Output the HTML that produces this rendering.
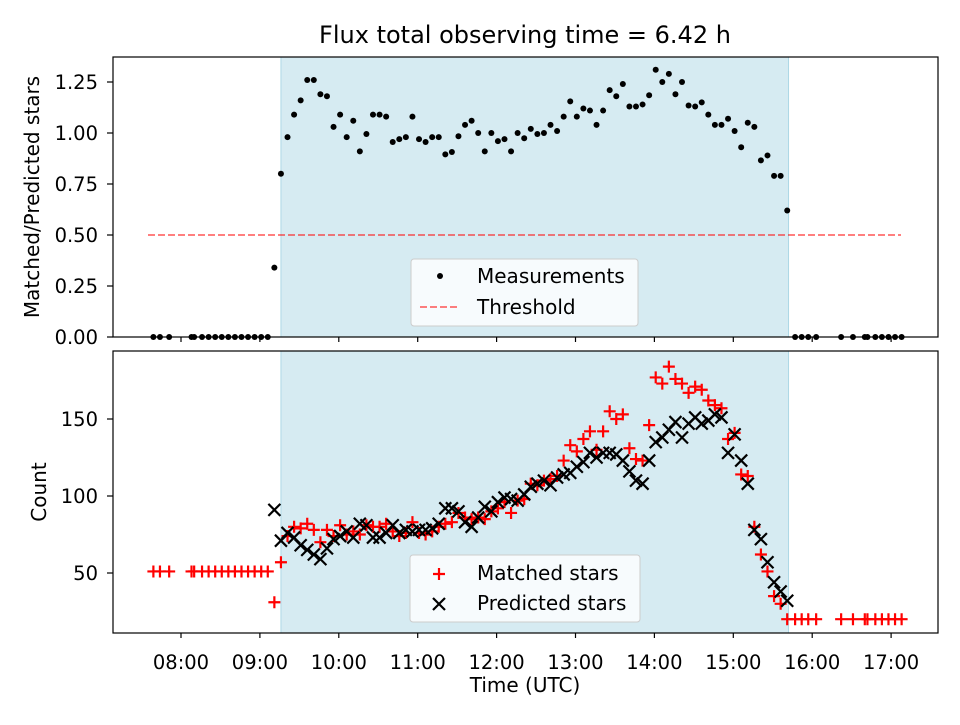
<!DOCTYPE html>
<html><head><meta charset="utf-8"><style>
body{margin:0;background:#fff;}
svg text{font-family:"DejaVu Sans","Liberation Sans",sans-serif;fill:#000;}
</style></head><body>
<svg id="c" width="960" height="720" viewBox="0 0 960 720" xmlns="http://www.w3.org/2000/svg"></svg>
<script>
const preTimes=["07:39","07:44","07:51","08:08","08:10","08:16","08:21","08:26","08:31","08:36","08:41","08:46","08:51","08:56","09:01","09:06"];
const activeTimes=["09:11","09:16","09:21","09:26","09:31","09:36","09:41","09:46","09:51","09:56","10:01","10:06","10:11","10:16","10:21","10:26","10:31","10:36","10:41","10:46","10:51","10:56","11:01","11:06","11:11","11:16","11:21","11:26","11:31","11:36","11:41","11:46","11:51","11:56","12:01","12:06","12:11","12:16","12:21","12:26","12:31","12:36","12:41","12:46","12:51","12:56","13:01","13:06","13:11","13:16","13:21","13:26","13:31","13:36","13:41","13:46","13:51","13:56","14:01","14:06","14:11","14:16","14:21","14:26","14:31","14:36","14:41","14:46","14:51","14:56","15:01","15:06","15:11","15:16","15:21","15:26","15:31","15:36","15:41"];
const postTimes=["15:47","15:52","15:57","16:03","16:22","16:31","16:40","16:42","16:48","16:53","16:58","17:03","17:08"];
const ratio=[0.34,0.80,0.98,1.09,1.16,1.26,1.26,1.19,1.18,1.03,1.09,0.98,1.06,0.91,0.995,1.09,1.09,1.08,0.956,0.97,0.98,1.08,0.97,0.956,0.98,0.98,0.895,0.907,0.984,1.04,1.06,1.00,0.91,1.00,0.96,0.97,0.91,1.00,0.974,1.02,0.995,1.00,1.04,1.01,1.08,1.155,1.08,1.12,1.11,1.04,1.11,1.21,1.18,1.24,1.13,1.13,1.14,1.185,1.31,1.25,1.29,1.19,1.25,1.135,1.13,1.15,1.09,1.04,1.04,1.07,1.01,0.93,1.05,1.03,0.866,0.89,0.79,0.79,0.62];
const predicted=[91,71,76,73,68,65,62,59,66,72,74,77,73,82,81,73,73,76,81,76,78,77,78,78,79,82,92,92,90,83,80,86,93,90,96,99,98,97,101,106,108,110,107,112,114,115,119,122,128,125,128,128,127,123,116,110,108,123,135,138,143,148,138,147,151,147,149,153,151,128,140,123,108,78,72,57,44,38,32];
const matched=[31,57,74,80,79,82,78,70,78,74,81,75,77,75,81,80,80,82,77,74,76,83,76,75,77,80,82,83,89,86,85,86,85,90,92,96,89,97,98,108,107,110,111,113,123,133,129,137,142,130,142,155,150,153,131,124,123,146,177,173,184,176,173,167,171,169,162,159,157,137,141,114,113,80,62,51,35,30,20];
const preMatched=[51,51,51,51,51,51,51,51,51,51,51,51,51,51,51,51];
const postMatched=[20,20,20,20,20,20,20,20,20,20,20,20,20];
const xTicks=["08:00","09:00","10:00","11:00","12:00","13:00","14:00","15:00","16:00","17:00"];
const topTicks=[0,0.25,0.5,0.75,1.0,1.25];
const botTicks=[50,100,150];
const threshold=0.5;
const shadeStart="09:16", shadeEnd="15:42";

const NS="http://www.w3.org/2000/svg";
const svg=document.getElementById('c');
function hrs(t){const p=t.split(':');return +p[0]+ +p[1]/60;}
function X(t){return 181+(hrs(t)-8)*78.9;}
function YT(v){return 337-v*204;}
function YB(v){return 573-(v-50)*1.54;}
function el(tag,a,parent){const e=document.createElementNS(NS,tag);for(const k in a)e.setAttribute(k,a[k]);(parent||svg).appendChild(e);return e;}

let s=el('rect',{x:X(shadeStart),y:57,width:X(shadeEnd)-X(shadeStart),height:280,fill:'#add8e6','fill-opacity':0.5,stroke:'#add8e6'});


s=el('rect',{x:X(shadeStart),y:351,width:X(shadeEnd)-X(shadeStart),height:282,fill:'#add8e6','fill-opacity':0.5,stroke:'#add8e6'});



let th=el('line',{x1:148,x2:901,y1:YT(threshold),y2:YT(threshold),stroke:'#ff0000','stroke-opacity':0.5,'stroke-width':2,'stroke-dasharray':'7,3'});



const gT=el('g',{});


preTimes.forEach(t=>{const c=el('circle',{cx:X(t),cy:YT(0),r:3,fill:'#000'},gT);});
activeTimes.forEach((t,i)=>{const c=el('circle',{cx:X(t),cy:YT(ratio[i]),r:3,fill:'#000'},gT);});
postTimes.forEach(t=>{const c=el('circle',{cx:X(t),cy:YT(0),r:3,fill:'#000'},gT);});

function plus(x,y,g){const p=el('path',{d:`M${x-6} ${y}H${x+6}M${x} ${y-6}V${y+6}`,stroke:'#ff0000','stroke-width':2.2},g);}
function cross(x,y,g){const p=el('path',{d:`M${x-6} ${y-6}L${x+6} ${y+6}M${x-6} ${y+6}L${x+6} ${y-6}`,stroke:'#000','stroke-width':2.2},g);}
const gM=el('g',{});


preTimes.forEach((t,i)=>plus(X(t),YB(preMatched[i]),gM));
activeTimes.forEach((t,i)=>plus(X(t),YB(matched[i]),gM));
postTimes.forEach((t,i)=>plus(X(t),YB(postMatched[i]),gM));
const gP=el('g',{});


activeTimes.forEach((t,i)=>cross(X(t),YB(predicted[i]),gP));

let f=el('rect',{x:113,y:57,width:825,height:280,fill:'none',stroke:'#000','stroke-width':1.2});

f=el('rect',{x:113,y:351,width:825,height:282,fill:'none',stroke:'#000','stroke-width':1.2});


xTicks.forEach(t=>{const x=X(t);
 el('line',{x1:x,x2:x,y1:337,y2:342,stroke:'#000','stroke-width':1.2});
 el('line',{x1:x,x2:x,y1:633,y2:638,stroke:'#000','stroke-width':1.2});
 const tx=el('text',{x:x,y:669,'font-size':19.5,'text-anchor':'middle'});tx.textContent=t;
 });
topTicks.forEach(v=>{const y=YT(v);el('line',{x1:107,x2:113,y1:y,y2:y,stroke:'#000','stroke-width':1.2});
 const tx=el('text',{x:98,y:y+7,'font-size':19.5,'text-anchor':'end'});tx.textContent=v.toFixed(2);
 });
botTicks.forEach(v=>{const y=YB(v);el('line',{x1:107,x2:113,y1:y,y2:y,stroke:'#000','stroke-width':1.2});
 const tx=el('text',{x:98,y:y+7,'font-size':19.5,'text-anchor':'end'});tx.textContent=v;
 });

let t=el('text',{x:525,y:43,'font-size':24,'text-anchor':'middle'});t.textContent='Flux total observing time = 6.42 h';

t=el('text',{x:525,y:692,'font-size':20,'text-anchor':'middle'});t.textContent='Time (UTC)';

t=el('text',{x:39,y:197,'font-size':20,'text-anchor':'middle',transform:'rotate(-90 39 197)'});t.textContent='Matched/Predicted stars';

t=el('text',{x:46,y:492,'font-size':20,'text-anchor':'middle',transform:'rotate(-90 46 492)'});t.textContent='Count';


let lg=el('g',{});
el('rect',{x:411,y:259,width:227,height:67,rx:3,fill:'#fff','fill-opacity':0.8,stroke:'#ccc'},lg);
el('circle',{cx:440,cy:276,r:3,fill:'#000'},lg);
t=el('text',{x:477,y:283,'font-size':20},lg);t.textContent='Measurements';
el('line',{x1:420,x2:460,y1:307,y2:307,stroke:'#ff0000','stroke-opacity':0.5,'stroke-width':2,'stroke-dasharray':'7,3'},lg);
t=el('text',{x:477,y:314,'font-size':20},lg);t.textContent='Threshold';
lg=el('g',{});
el('rect',{x:410,y:555,width:230,height:67,rx:3,fill:'#fff','fill-opacity':0.8,stroke:'#ccc'},lg);
plus(439,574,lg);
t=el('text',{x:477,y:580,'font-size':20},lg);t.textContent='Matched stars';
cross(439,604,lg);
t=el('text',{x:477,y:610,'font-size':20},lg);t.textContent='Predicted stars';
</script>
</body></html>
